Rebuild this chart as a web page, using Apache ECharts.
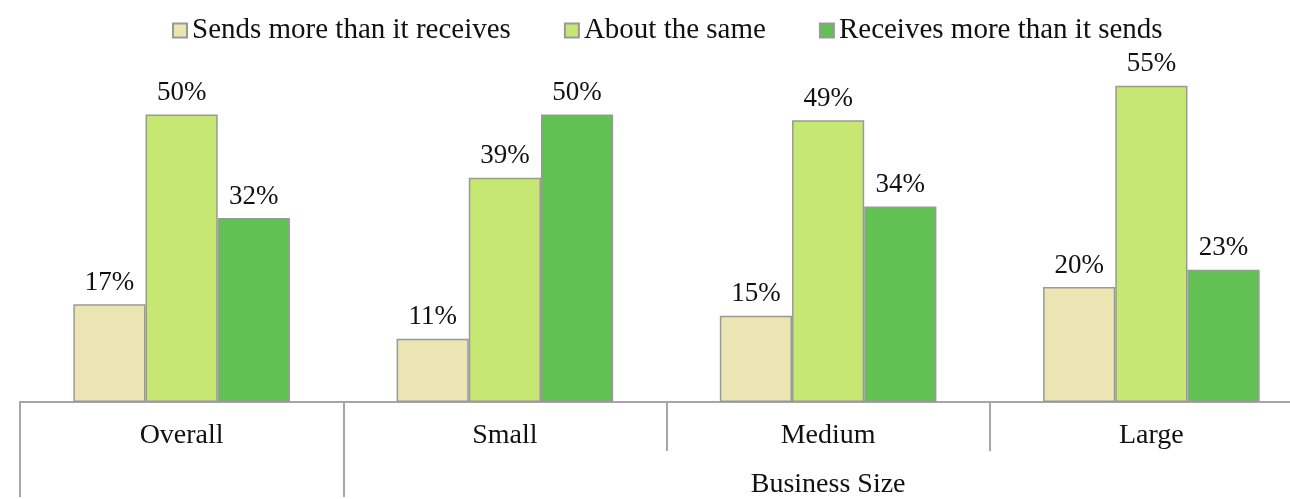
<!DOCTYPE html>
<html>
<head>
<meta charset="utf-8">
<script src="https://cdn.jsdelivr.net/npm/echarts@6/dist/echarts.min.js"></script>
<style>html,body{margin:0;padding:0;background:#fff;overflow:hidden}#w{width:1290px;height:499px;overflow:hidden;position:relative}#c{position:absolute;left:0;top:0;width:1313px;height:499px}</style>
</head>
<body>
<div id="w"><div id="c"></div></div>
<script>
const categories = ['Overall', 'Small', 'Medium', 'Large'];
const seriesNames = ['Sends more than it receives', 'About the same', 'Receives more than it sends'];
const sendsMore = [17, 11, 15, 20];
const aboutSame = [50, 39, 49, 55];
const receivesMore = [32, 50, 34, 23];
const groupLabel = 'Business Size';
const colors = ['#EBE5B3', '#C6E772', '#61C153'];

const FONT = 'Liberation Serif';
const chart = echarts.init(document.getElementById('c'));
const values = [sendsMore, aboutSame, receivesMore];

chart.setOption({
  animation: false,
  textStyle: { fontFamily: FONT },
  legend: {
    top: 11,
    left: 167,
    itemWidth: 14,
    itemHeight: 14,
    itemGap: 53,
    icon: 'rect',
    textStyle: { fontFamily: FONT, fontSize: 29, color: '#111', padding: [0, 0, 0, 0] },
    data: seriesNames
  },
  grid: { left: 20, right: 0, top: 57, bottom: 93 },
  xAxis: [
    {
      type: 'category',
      data: categories,
      position: 'bottom',
      axisLine: { lineStyle: { color: '#a6a6a6', width: 2 } },
      axisTick: { show: true, length: 49, lineStyle: { color: '#a6a6a6', width: 2 } },
      axisLabel: { fontFamily: FONT, fontSize: 28, color: '#111', margin: 20 }
    },
    {
      type: 'value',
      min: 0,
      max: 4,
      position: 'bottom',
      offset: 49,
      axisLine: { show: false },
      splitLine: { show: false },
      axisTick: { show: true, length: 46, customValues: [0, 1], lineStyle: { color: '#a6a6a6', width: 2 } },
      axisLabel: {
        customValues: [2.5],
        formatter: () => groupLabel,
        fontFamily: FONT, fontSize: 28, color: '#111', margin: 20
      }
    }
  ],
  yAxis: {
    type: 'value',
    min: 0,
    max: 60,
    show: false,
    splitLine: { show: false }
  },
  series: seriesNames.map((name, i) => ({
    name,
    type: 'bar',
    xAxisIndex: 0,
    data: values[i],
    barGap: '0%',
    barCategoryGap: '33%',
    itemStyle: { color: colors[i], borderColor: '#999', borderWidth: 1.5 },
    label: {
      show: true,
      position: 'top',
      distance: 8,
      formatter: '{c}%',
      fontFamily: FONT,
      fontSize: 27,
      color: '#111'
    }
  }))
});
</script>
</body>
</html>
